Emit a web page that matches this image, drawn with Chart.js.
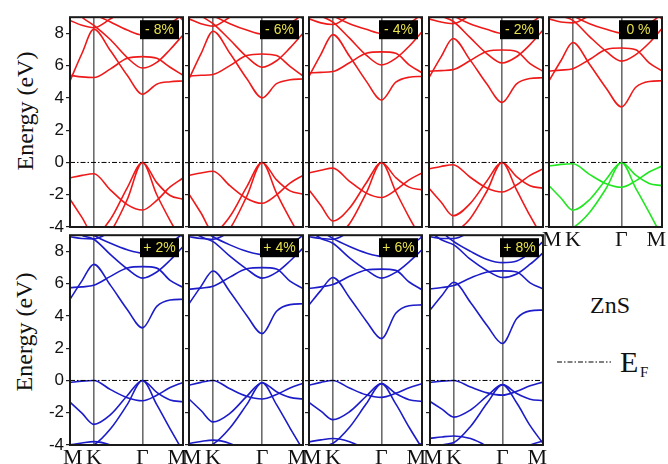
<!DOCTYPE html>
<html>
<head>
<meta charset="utf-8">
<script src="https://cdn.jsdelivr.net/npm/chart.js@4.4.0/dist/chart.umd.min.js"></script>
<style>
body { margin: 0; background: #fff; width: 668px; height: 464px; position: relative; overflow: hidden }
canvas { position: absolute }
.txt { position: absolute; font-family: 'Liberation Serif', serif; color: #111; white-space: nowrap; line-height: 1 }
.ylab { font-size: 24px; transform: translate(-50%, -50%) rotate(-90deg) }
</style>
</head>
<body>
<div class="txt ylab" style="left:25px;top:111px">Energy (eV)</div>
<div class="txt ylab" style="left:24px;top:332px">Energy (eV)</div>
<div class="txt" style="left:590px;top:293px;font-size:24px">ZnS</div>
<svg style="position:absolute;left:556px;top:357px" width="56" height="10">
  <line x1="1" y1="5" x2="55" y2="5" stroke="#000" stroke-width="1" stroke-dasharray="5,2,1.5,2"/>
</svg>
<div class="txt" style="left:620px;top:347px;font-size:30px">E</div>
<div class="txt" style="left:640px;top:365px;font-size:15px">F</div>
<script>
// k-path: M - K - Γ - M
const kPath = [0, 0.25, 0.5, 0.85, 1.2, 1.52, 1.82, 2.1, 2.37]
const kTicks = [0.06, 0.5, 1.52, 2.25]
const kLabels = ["M", "K", "Γ", "M"]
const yTicks = [-4, -3, -2, -1, 0, 1, 2, 3, 4, 5, 6, 7, 8]
const fermiLevel = 0
const strainLabels = ["- 8%", "- 6%", "- 4%", "- 2%", "0 %", "+ 2%", "+ 4%", "+ 6%", "+ 8%"]

// conduction / valence bands (eV) at the kPath points
const m8_cb = [
    [5.05, 6.75, 8.25, 6.92, 5.40, 4.23, 4.85, 5.00, 5.05],
    [5.40, 5.30, 5.26, 5.80, 6.45, 6.56, 6.45, 5.90, 5.40],
    [9.8, 9.0, 8.5, 7.6, 6.5, 5.85, 6.2, 7.0, 7.9],
    [10, 9.6, 9.2, 8.7, 8.2, 7.9, 8.1, 8.6, 9.2],
    [8.8, 8.5, 8.35, 8.9, 9.5, 10, 10, 9.6, 8.8]
]
const m8_vb = [
    [-0.96, -0.80, -0.70, -1.71, -2.61, -2.95, -2.35, -1.52, -0.96],
    [-2.28, -3.40, -4.50, -3.51, -1.57, 0, -1.25, -2.05, -2.28],
    [-6.0, -5.6, -5.2, -4.3, -2.3, 0, -2.0, -3.6, -5.0]
]
const m6_cb = [
    [5.17, 6.74, 8.13, 6.77, 5.20, 4.00, 4.88, 5.12, 5.17],
    [5.35, 5.40, 5.45, 6.00, 6.62, 6.72, 6.62, 5.95, 5.35],
    [9.8, 9.1, 8.6, 7.6, 6.55, 5.90, 6.3, 7.1, 8.0],
    [10, 9.6, 9.1, 8.6, 8.2, 7.95, 8.1, 8.6, 9.2],
    [8.9, 8.6, 8.45, 9.0, 9.6, 10, 10, 9.6, 8.9]
]
const m6_vb = [
    [-0.80, -0.65, -0.55, -1.44, -2.23, -2.53, -2.01, -1.28, -0.80],
    [-1.96, -3.13, -4.30, -3.35, -1.51, 0, -1.08, -1.76, -1.96],
    [-6.0, -5.4, -5.0, -4.1, -2.1, 0, -1.9, -3.5, -4.9]
]
const m4_cb = [
    [5.33, 6.70, 7.92, 6.58, 5.04, 3.87, 4.97, 5.28, 5.33],
    [5.55, 5.58, 5.63, 6.18, 6.76, 6.85, 6.76, 6.05, 5.55],
    [9.8, 9.1, 8.7, 7.7, 6.65, 6.04, 6.45, 7.2, 8.1],
    [10, 9.6, 9.1, 8.6, 8.25, 8.0, 8.15, 8.6, 9.2],
    [8.9, 8.65, 8.55, 9.1, 9.6, 10, 10, 9.6, 8.9]
]
const m4_vb = [
    [-0.65, -0.48, -0.35, -1.17, -1.90, -2.17, -1.71, -1.08, -0.65],
    [-1.70, -2.67, -3.63, -2.83, -1.27, 0, -0.94, -1.53, -1.70],
    [-5.7, -5.0, -4.7, -3.8, -1.9, 0, -1.8, -3.4, -4.8]
]
const m2_cb = [
    [5.25, 6.54, 7.68, 6.37, 4.87, 3.72, 4.87, 5.20, 5.25],
    [5.65, 5.69, 5.75, 6.30, 6.88, 6.97, 6.88, 6.12, 5.65],
    [9.7, 9.1, 8.75, 7.75, 6.75, 6.16, 6.55, 7.3, 8.2],
    [10, 9.6, 9.1, 8.6, 8.25, 8.0, 8.15, 8.6, 9.2],
    [8.9, 8.7, 8.6, 9.1, 9.6, 10, 10, 9.6, 8.9]
]
const m2_vb = [
    [-0.40, -0.25, -0.14, -0.90, -1.58, -1.83, -1.40, -0.80, -0.40],
    [-1.60, -2.45, -3.30, -2.57, -1.16, 0, -0.88, -1.44, -1.60],
    [-5.4, -4.7, -4.4, -3.5, -1.8, 0, -1.7, -3.3, -4.7]
]
const z0_cb = [
    [5.06, 6.30, 7.43, 6.09, 4.60, 3.44, 4.66, 5.02, 5.06],
    [5.67, 5.72, 5.81, 6.38, 7.00, 7.09, 6.98, 6.17, 5.67],
    [9.6, 9.1, 8.8, 7.8, 6.88, 6.28, 6.68, 7.4, 8.3],
    [10, 9.6, 9.1, 8.6, 8.25, 8.02, 8.15, 8.6, 9.2],
    [8.9, 8.7, 8.65, 9.1, 9.6, 10, 10, 9.6, 8.9]
]
const z0_vb = [
    [-0.22, -0.12, -0.08, -0.74, -1.32, -1.54, -1.14, -0.59, -0.22],
    [-1.44, -2.20, -2.96, -2.31, -1.04, 0, -0.79, -1.30, -1.44],
    [-5.0, -4.3, -4.05, -3.1, -1.6, 0, -1.6, -3.1, -4.6]
]
const p2_cb = [
    [5.03, 6.17, 7.19, 5.89, 4.40, 3.26, 4.59, 4.98, 5.03],
    [5.75, 5.80, 5.90, 6.45, 6.97, 7.05, 6.96, 6.20, 5.77],
    [9.5, 9.0, 8.75, 7.8, 6.92, 6.34, 6.72, 7.45, 8.3],
    [10, 9.5, 9.0, 8.5, 8.1, 7.9, 8.05, 8.5, 9.1],
    [8.9, 8.8, 8.77, 9.2, 9.7, 10, 10, 9.6, 8.9]
]
const p2_vb = [
    [-0.12, -0.04, 0.0, -0.57, -1.07, -1.26, -0.92, -0.44, -0.12],
    [-1.34, -2.03, -2.72, -2.12, -0.95, 0, -0.74, -1.21, -1.32],
    [-4.8, -4.2, -4.0, -3.0, -1.5, 0, -1.5, -3.0, -4.4],
    [-4.0, -3.88, -3.79, -4.0, -4.5, -5.0, -4.6, -4.3, -4.1]
]
const p4_cb = [
    [4.75, 5.83, 6.78, 5.50, 4.03, 2.90, 4.29, 4.70, 4.75],
    [5.65, 5.72, 5.83, 6.40, 6.92, 6.99, 6.90, 6.15, 5.70],
    [9.4, 8.9, 8.6, 7.7, 6.9, 6.34, 6.7, 7.4, 8.2],
    [10, 9.4, 8.9, 8.4, 8.0, 7.8, 7.95, 8.4, 9.0],
    [8.9, 8.8, 8.75, 9.2, 9.7, 10, 10, 9.6, 8.9]
]
const p4_vb = [
    [-0.30, -0.12, 0.0, -0.52, -0.98, -1.15, -0.87, -0.47, -0.18],
    [-1.15, -1.86, -2.57, -2.04, -0.99, -0.14, -0.70, -1.05, -1.15],
    [-4.7, -4.15, -3.95, -2.95, -1.5, -0.14, -1.5, -2.95, -4.3],
    [-3.9, -3.78, -3.7, -3.9, -4.4, -5.0, -4.6, -4.3, -4.0]
]
const p6_cb = [
    [4.68, 5.58, 6.38, 5.13, 3.69, 2.59, 4.16, 4.63, 4.68],
    [5.70, 5.80, 5.94, 6.45, 6.84, 6.90, 6.82, 6.10, 5.62],
    [9.3, 8.8, 8.5, 7.6, 6.85, 6.34, 6.7, 7.35, 8.1],
    [10, 9.3, 8.8, 8.3, 7.9, 7.7, 7.85, 8.3, 8.9],
    [8.9, 8.8, 8.75, 9.2, 9.7, 10, 10, 9.6, 8.9]
]
const p6_vb = [
    [-0.30, -0.12, 0.0, -0.47, -0.89, -1.05, -0.80, -0.45, -0.20],
    [-1.36, -1.90, -2.43, -1.94, -0.98, -0.20, -0.81, -1.19, -1.30],
    [-4.6, -4.1, -3.9, -2.9, -1.45, -0.20, -1.45, -2.9, -4.2],
    [-3.8, -3.68, -3.6, -3.8, -4.3, -5.0, -4.5, -4.2, -3.9]
]
const p8_cb = [
    [4.36, 5.27, 6.08, 4.83, 3.39, 2.29, 3.84, 4.31, 4.36],
    [5.67, 5.76, 5.88, 6.35, 6.72, 6.79, 6.72, 6.05, 5.67],
    [9.2, 8.7, 8.4, 7.5, 6.8, 6.38, 6.6, 7.2, 7.9],
    [10, 9.2, 8.6, 8.0, 7.5, 7.3, 7.4, 7.9, 8.6],
    [8.9, 8.8, 8.8, 9.2, 9.7, 10, 10, 9.6, 8.9]
]
const p8_vb = [
    [-0.12, -0.04, 0.0, -0.41, -0.77, -0.91, -0.67, -0.33, -0.10],
    [-1.30, -1.78, -2.27, -1.83, -0.96, -0.26, -0.81, -1.16, -1.25],
    [-4.5, -4.0, -3.85, -2.85, -1.4, -0.26, -1.4, -2.8, -3.9],
    [-3.59, -3.5, -3.44, -3.6, -4.1, -4.8, -4.4, -4.0, -3.75]
]

const red = "#ee1a1a"
const blue = "#1c1cc8"
const green = "#22e622"

// plot area boxes [left, right], row tops/bottoms
const topRow = [[70, 183], [189, 303], [309, 422], [429, 543], [549, 662]]
const botRow = [[70, 183], [189, 303], [309, 422], [430, 543]]

const panelDeco = {
    id: "panelDeco",
    afterDraw(chart, args, opts) {
        let a = chart.chartArea
        let c = chart.ctx
        c.save()
        c.strokeStyle = "#1a1a1a"
        c.lineWidth = 2
        c.strokeRect(a.left, a.top, a.right - a.left, a.bottom - a.top)
        c.fillStyle = "#000"
        c.fillRect(a.right - 43, a.top + 3, 39, 19)
        c.fillStyle = "#e6e04c"
        c.font = "14px 'Liberation Sans'"
        c.textAlign = "center"
        c.textBaseline = "middle"
        c.fillText(opts.text, a.right - 23.5, a.top + 13)
        c.restore()
    }
}

function band_dataset(values, color) {
    return {
        data: kPath.map((k, i) => ({ x: k, y: values[i] })),
        borderColor: color,
        borderWidth: 1.6,
        pointRadius: 0,
        fill: false,
        cubicInterpolationMode: "monotone"
    }
}

function draw_panel(box, top, bottom, cb, vb, cbColor, vbColor, label, showY, showX) {
    let w = box[1] - box[0]
    let h = bottom - top
    let canvas = document.createElement("canvas")
    canvas.width = w + 68
    canvas.height = h + 38
    canvas.style.left = (box[0] - 60) + "px"
    canvas.style.top = (top - 8) + "px"
    document.body.appendChild(canvas)

    let datasets = []
    cb.forEach(b => datasets.push(band_dataset(b, cbColor)))
    vb.forEach(b => datasets.push(band_dataset(b, vbColor)))
    datasets.push({
        data: [{ x: kPath[0], y: fermiLevel }, { x: kPath[kPath.length - 1], y: fermiLevel }],
        borderColor: "#000",
        borderWidth: 1,
        borderDash: [5, 2, 1.5, 2],
        pointRadius: 0,
        order: -1
    })

    new Chart(canvas, {
        type: "line",
        data: { datasets: datasets },
        options: {
            responsive: false,
            animation: false,
            devicePixelRatio: 1,
            layout: { padding: { left: 0, top: 8, right: 8, bottom: 0 } },
            plugins: { legend: { display: false }, tooltip: { enabled: false }, panelDeco: { text: label } },
            scales: {
                x: {
                    type: "linear", min: 0, max: 2.37,
                    afterBuildTicks: s => { s.ticks = kTicks.map(v => ({ value: v })) },
                    afterFit: s => { s.height = 30 },
                    ticks: {
                        callback: (v, i) => kLabels[i],
                        autoSkip: false, maxRotation: 0, padding: 0,
                        color: showX ? "#111" : "rgba(0,0,0,0)",
                        font: { family: "'Liberation Serif'", size: 22 }
                    },
                    grid: {
                        color: ctx => (ctx.tick && (ctx.tick.value === 0.5 || ctx.tick.value === 1.52)) ? "#6c6c6c" : "rgba(0,0,0,0)",
                        lineWidth: 1.6,
                        drawTicks: false
                    },
                    border: { display: false }
                },
                y: {
                    min: -4, max: 9,
                    afterBuildTicks: s => { s.ticks = yTicks.map(v => ({ value: v })) },
                    afterFit: s => { s.width = 60 },
                    ticks: {
                        callback: v => (v % 2 === 0 ? String(v) : ""),
                        padding: 2,
                        color: showY ? "#111" : "rgba(0,0,0,0)",
                        font: { family: "'Liberation Sans'", size: 17 }
                    },
                    grid: { drawOnChartArea: false, drawTicks: true, tickLength: 4, color: "#222", lineWidth: 1.2 },
                    border: { display: false }
                }
            }
        },
        plugins: [panelDeco]
    })
}

let topCb = [m8_cb, m6_cb, m4_cb, m2_cb, z0_cb]
let topVb = [m8_vb, m6_vb, m4_vb, m2_vb, z0_vb]
for (let i = 0; i < 5; i++) {
    draw_panel(topRow[i], 13, 227, topCb[i], topVb[i], red, i === 4 ? green : red, strainLabels[i], i === 0, i === 4)
}
let botCb = [p2_cb, p4_cb, p6_cb, p8_cb]
let botVb = [p2_vb, p4_vb, p6_vb, p8_vb]
for (let i = 0; i < 4; i++) {
    draw_panel(botRow[i], 231, 445, botCb[i], botVb[i], blue, blue, strainLabels[5 + i], i === 0, true)
}
</script>
</body>
</html>
